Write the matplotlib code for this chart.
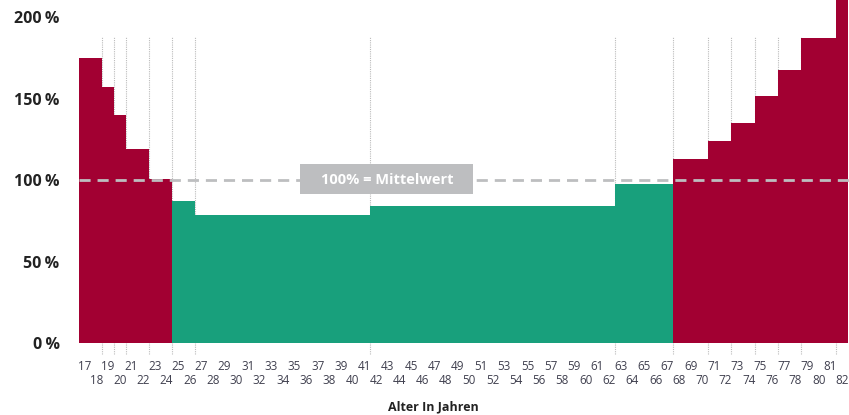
import matplotlib.pyplot as plt
from matplotlib.patches import Rectangle
import numpy as np

# Alter 17..82 und relativer Wert in Prozent (100% = Mittelwert)
ages = list(range(17, 83))
values = [175, 175, 157, 140, 119, 119, 101, 101, 87, 87,
          78.5, 78.5, 78.5, 78.5, 78.5, 78.5, 78.5, 78.5, 78.5, 78.5,
          78.5, 78.5, 78.5, 78.5, 78.5,
          84.4, 84.4, 84.4, 84.4, 84.4, 84.4, 84.4, 84.4, 84.4, 84.4,
          84.4, 84.4, 84.4, 84.4, 84.4, 84.4, 84.4, 84.4, 84.4, 84.4, 84.4,
          97.7, 97.7, 97.7, 97.7, 97.7,
          113, 113, 113, 124, 124, 135, 135, 152, 152, 167.5, 167.5,
          187, 187, 187, 215]
y_ticks = [0, 50, 100, 150, 200]
y_labels = ['0\u2009%', '50\u2009%', '100\u2009%', '150\u2009%', '200\u2009%']
mean_label = '100% = Mittelwert'
x_title = 'Alter In Jahren'

RED = '#A20032'
GREEN = '#18A07C'
GREY = '#BDBEC0'

plt.rcParams['font.family'] = ['Open Sans', 'DejaVu Sans']

fig = plt.figure(figsize=(8.49, 4.15), dpi=100)
ax = fig.add_axes([79 / 849, 1 - 343.3 / 415, 770 / 849, 343.3 / 415])

ages_arr = np.array(ages)
vals = np.array(values)
colors = [RED if v > 100 else GREEN for v in vals]
ax.bar(ages_arr, vals, width=1.0, color=colors, linewidth=0, antialiased=False, zorder=2)

# gepunktete Linien an den Stufen
steps = [a + 0.5 for a, v0, v1 in zip(ages[:-1], values[:-1], values[1:]) if v0 != v1]
ax.vlines(steps, -6.5, 188, colors='#BBBBBB', linestyles=(0, (1, 1)), linewidth=0.8,
          zorder=1, clip_on=False)

# Mittelwert-Linie
ax.axhline(100, color=GREY, linewidth=2, dashes=(4, 2.5), zorder=3)
ax.add_patch(Rectangle((35.5, 91.6), 14.85, 18.2, facecolor=GREY, edgecolor='none', zorder=4))
ax.text(42.93, 100.3, mean_label, color='white', fontsize=10.5, fontweight='bold',
        ha='center', va='center', zorder=5)

ax.set_xlim(16.5, 82.6)
ax.set_ylim(0, 210.6)
for s in ax.spines.values():
    s.set_visible(False)

ax.set_yticks(y_ticks)
ax.set_yticklabels(y_labels, fontsize=11.5, fontweight='bold', color='#222222')
ax.tick_params(axis='y', length=0, pad=14)

odd = [a for a in ages if a % 2 == 1]
even = [a for a in ages if a % 2 == 0]
ax.set_xticks(odd)
ax.set_xticklabels([str(a) for a in odd], fontsize=8.4, color='#40404F')
ax.set_xticks(even, minor=True)
ax.set_xticklabels([str(a) for a in even], minor=True, fontsize=8.4, color='#40404F')
ax.tick_params(axis='x', which='major', length=0, pad=12)
ax.tick_params(axis='x', which='minor', length=0, pad=22)

fig.text(433 / 849, 1 - 406.5 / 415, x_title, fontsize=9, fontweight='bold',
         color='#222222', ha='center', va='center')

fig.savefig('out.png', dpi=100)
